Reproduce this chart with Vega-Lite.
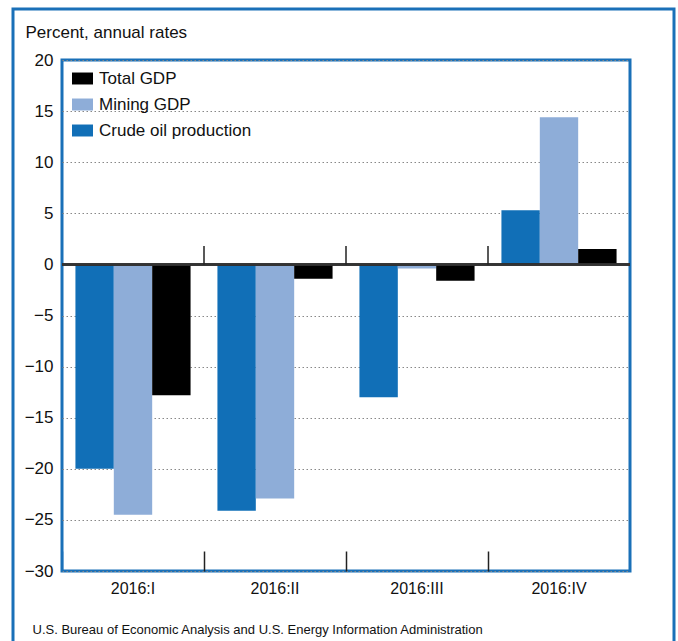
{
  "$schema": "https://vega.github.io/schema/vega-lite/v6.json",
  "width": 568,
  "height": 511,
  "autosize": "none",
  "padding": {"left": 62, "top": 60, "right": 48, "bottom": 70},
  "background": "white",
  "config": {
    "font": "Liberation Sans",
    "view": {"stroke": "#1a70b8", "strokeWidth": 3}
  },
  "data": {
    "values": [
      {"quarter": "2016:I", "series": "Crude oil production", "value": -20.0},
      {"quarter": "2016:I", "series": "Mining GDP", "value": -24.5},
      {"quarter": "2016:I", "series": "Total GDP", "value": -12.8},
      {"quarter": "2016:II", "series": "Crude oil production", "value": -24.1},
      {"quarter": "2016:II", "series": "Mining GDP", "value": -22.9},
      {"quarter": "2016:II", "series": "Total GDP", "value": -1.4},
      {"quarter": "2016:III", "series": "Crude oil production", "value": -13.0},
      {"quarter": "2016:III", "series": "Mining GDP", "value": -0.4},
      {"quarter": "2016:III", "series": "Total GDP", "value": -1.6},
      {"quarter": "2016:IV", "series": "Crude oil production", "value": 5.3},
      {"quarter": "2016:IV", "series": "Mining GDP", "value": 14.4},
      {"quarter": "2016:IV", "series": "Total GDP", "value": 1.5}
    ]
  },
  "layer": [
    {
      "data": {"values": [{}]},
      "mark": {"type": "rect", "fill": null, "fillOpacity": 0, "stroke": "#1a70b8", "strokeWidth": 3},
      "encoding": {
        "x": {"value": -49},
        "x2": {"value": 612},
        "y": {"value": -51},
        "y2": {"value": 620}
      }
    },
    {
      "mark": {"type": "bar", "width": {"band": 1}},
      "encoding": {
        "x": {
          "field": "quarter",
          "type": "nominal",
          "sort": ["2016:I", "2016:II", "2016:III", "2016:IV"],
          "scale": {"paddingInner": 0, "paddingOuter": 0},
          "axis": {
            "title": "U.S. Bureau of Economic Analysis and U.S. Energy Information Administration",
            "titleX": -30,
            "titleY": 58,
            "titleAlign": "left",
            "titleBaseline": "middle",
            "titleFontWeight": "normal",
            "titleFontSize": 13,
            "titleColor": "#111",
            "labelAngle": 0,
            "labelFontSize": 16,
            "labelColor": "#111",
            "labelPadding": 29,
            "domain": false,
            "ticks": true,
            "bandPosition": 0,
            "tickSize": -20,
            "tickColor": {"expr": "datum.value === '2016:I' ? '#1a70b8' : '#222'"},
            "tickWidth": 1.5
          }
        },
        "xOffset": {
          "field": "series",
          "type": "nominal",
          "sort": ["Crude oil production", "Mining GDP", "Total GDP"],
          "scale": {"paddingInner": 0, "paddingOuter": 0.35}
        },
        "y": {
          "field": "value",
          "type": "quantitative",
          "scale": {"domain": [-30, 20], "nice": false, "zero": false},
          "axis": {
            "title": "Percent, annual rates",
            "titleAngle": 0,
            "titleX": -37,
            "titleY": -28,
            "titleAlign": "left",
            "titleBaseline": "middle",
            "titleFontWeight": "normal",
            "titleFontSize": 17,
            "titleColor": "#111",
            "values": [-30, -25, -20, -15, -10, -5, 0, 5, 10, 15, 20],
            "labelFontSize": 17,
            "labelColor": "#111",
            "labelPadding": 9,
            "ticks": false,
            "domain": false,
            "grid": true,
            "gridColor": "#888",
            "gridDash": [1.5, 2.5],
            "gridWidth": 1
          }
        },
        "color": {
          "field": "series",
          "type": "nominal",
          "scale": {
            "domain": ["Total GDP", "Mining GDP", "Crude oil production"],
            "range": ["#000000", "#8eadd8", "#116fb7"]
          },
          "legend": {
            "title": null,
            "orient": "none",
            "legendX": 10,
            "legendY": 8,
            "padding": 0,
            "rowPadding": 7,
            "symbolType": "M-1,-0.57H1V0.57H-1Z",
            "symbolSize": 441,
            "symbolStrokeWidth": 0,
            "symbolOpacity": 1,
            "labelFontSize": 17,
            "labelColor": "#111",
            "labelOffset": 6
          }
        }
      }
    },
    {
      "mark": {"type": "rule", "color": "#333", "strokeWidth": 1.5},
      "encoding": {"y": {"datum": 0}}
    },
    {
      "transform": [
        {"filter": "datum.series === 'Total GDP' && datum.quarter !== '2016:I'"}
      ],
      "mark": {"type": "rule", "color": "#222", "strokeWidth": 1.5},
      "encoding": {
        "x": {"field": "quarter", "type": "nominal", "bandPosition": 0},
        "y": {"datum": 0},
        "y2": {"datum": 1.8}
      }
    }
  ]
}
